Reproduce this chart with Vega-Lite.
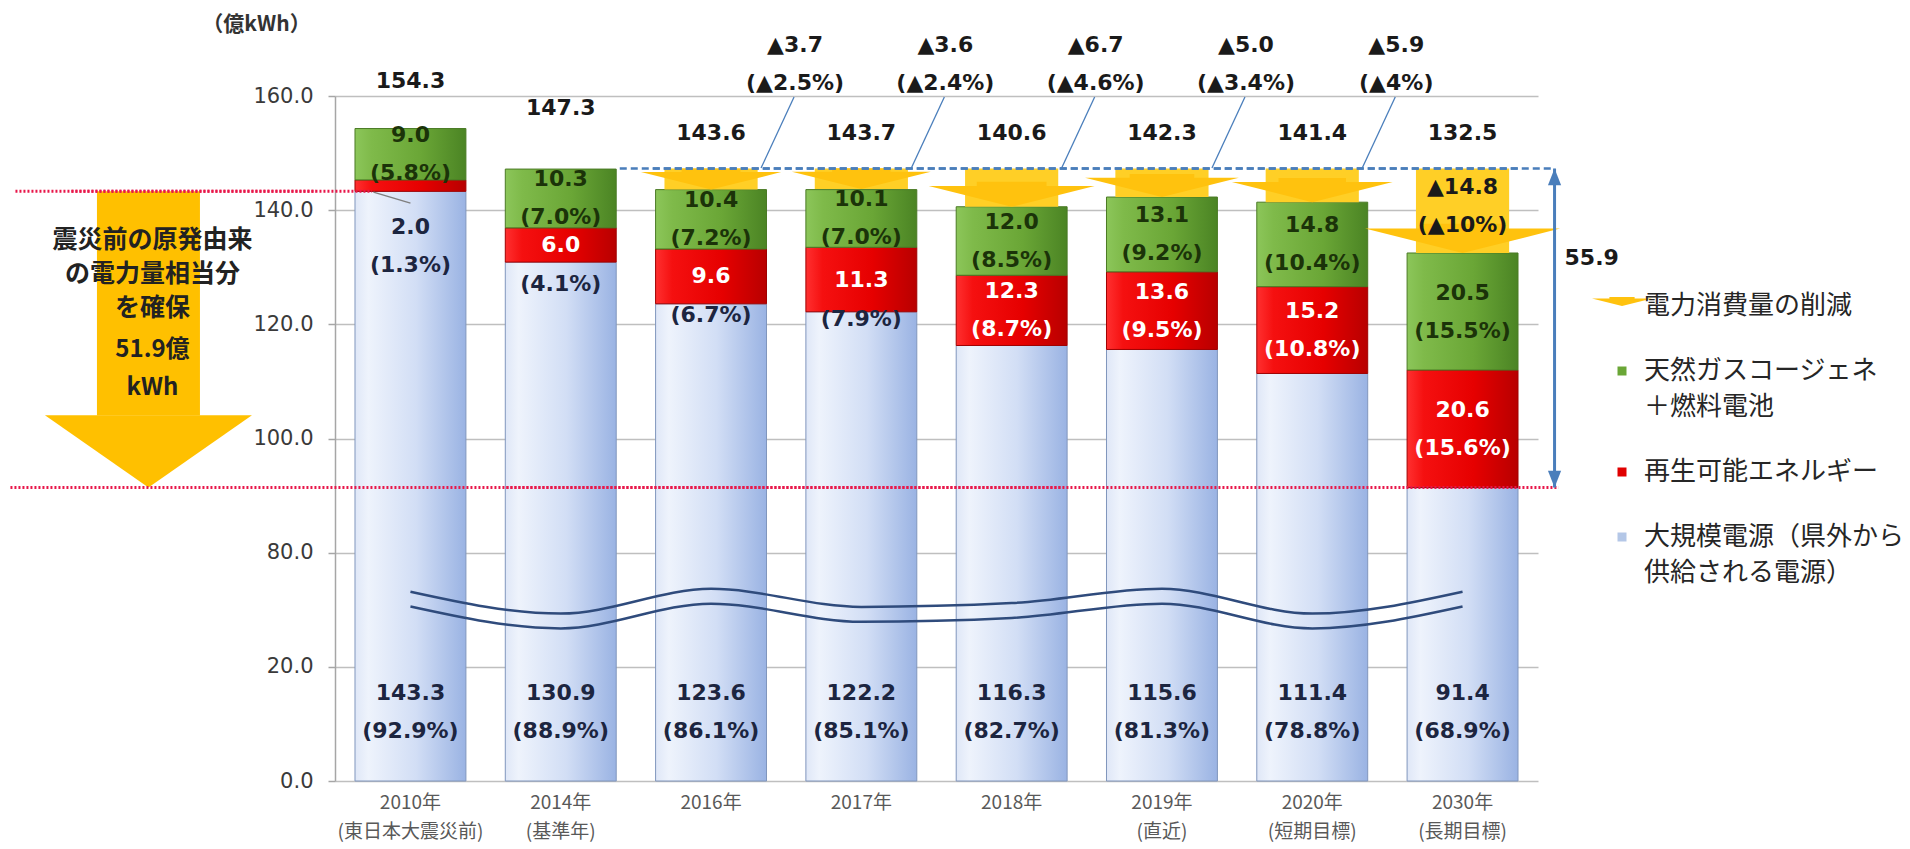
{
  "$schema": "https://vega.github.io/schema/vega-lite/v6.json",
  "width": 1203,
  "height": 685,
  "autosize": {"type": "none"},
  "padding": {"left": 335, "top": 96, "right": 372, "bottom": 68},
  "background": "white",
  "config": {"view": {"stroke": null}, "text": {"font": "DejaVu Sans"}},
  "datasets": {
    "seg": [
      {"year": "2010年", "series": "大規模電源（県外から供給される電源）", "order": 1, "value": 143.3, "pct": 92.9},
      {"year": "2010年", "series": "再生可能エネルギー", "order": 2, "value": 2.0, "pct": 1.3},
      {"year": "2010年", "series": "天然ガスコージェネ＋燃料電池", "order": 3, "value": 9.0, "pct": 5.8},
      {"year": "2014年", "series": "大規模電源（県外から供給される電源）", "order": 1, "value": 130.9, "pct": 88.9},
      {"year": "2014年", "series": "再生可能エネルギー", "order": 2, "value": 6.0, "pct": 4.1},
      {"year": "2014年", "series": "天然ガスコージェネ＋燃料電池", "order": 3, "value": 10.3, "pct": 7.0},
      {"year": "2016年", "series": "大規模電源（県外から供給される電源）", "order": 1, "value": 123.6, "pct": 86.1},
      {"year": "2016年", "series": "再生可能エネルギー", "order": 2, "value": 9.6, "pct": 6.7},
      {"year": "2016年", "series": "天然ガスコージェネ＋燃料電池", "order": 3, "value": 10.4, "pct": 7.2},
      {"year": "2017年", "series": "大規模電源（県外から供給される電源）", "order": 1, "value": 122.2, "pct": 85.1},
      {"year": "2017年", "series": "再生可能エネルギー", "order": 2, "value": 11.3, "pct": 7.9},
      {"year": "2017年", "series": "天然ガスコージェネ＋燃料電池", "order": 3, "value": 10.1, "pct": 7.0},
      {"year": "2018年", "series": "大規模電源（県外から供給される電源）", "order": 1, "value": 116.3, "pct": 82.7},
      {"year": "2018年", "series": "再生可能エネルギー", "order": 2, "value": 12.3, "pct": 8.7},
      {"year": "2018年", "series": "天然ガスコージェネ＋燃料電池", "order": 3, "value": 12.0, "pct": 8.5},
      {"year": "2019年", "series": "大規模電源（県外から供給される電源）", "order": 1, "value": 115.6, "pct": 81.3},
      {"year": "2019年", "series": "再生可能エネルギー", "order": 2, "value": 13.6, "pct": 9.5},
      {"year": "2019年", "series": "天然ガスコージェネ＋燃料電池", "order": 3, "value": 13.1, "pct": 9.2},
      {"year": "2020年", "series": "大規模電源（県外から供給される電源）", "order": 1, "value": 111.4, "pct": 78.8},
      {"year": "2020年", "series": "再生可能エネルギー", "order": 2, "value": 15.2, "pct": 10.8},
      {"year": "2020年", "series": "天然ガスコージェネ＋燃料電池", "order": 3, "value": 14.8, "pct": 10.4},
      {"year": "2030年", "series": "大規模電源（県外から供給される電源）", "order": 1, "value": 91.4, "pct": 68.9},
      {"year": "2030年", "series": "再生可能エネルギー", "order": 2, "value": 20.6, "pct": 15.6},
      {"year": "2030年", "series": "天然ガスコージェネ＋燃料電池", "order": 3, "value": 20.5, "pct": 15.5}
    ],
    "tot": [
      {"year": "2010年", "total": 154.3},
      {"year": "2014年", "total": 147.3},
      {"year": "2016年", "total": 143.6},
      {"year": "2017年", "total": 143.7},
      {"year": "2018年", "total": 140.6},
      {"year": "2019年", "total": 142.3},
      {"year": "2020年", "total": 141.4},
      {"year": "2030年", "total": 132.5}
    ],
    "cut": [
      {"year": "2016年", "series": "電力消費量の削減", "base": 147.3, "total": 143.6, "cut": 3.7, "cutPct": 2.5},
      {"year": "2017年", "series": "電力消費量の削減", "base": 147.3, "total": 143.7, "cut": 3.6, "cutPct": 2.4},
      {"year": "2018年", "series": "電力消費量の削減", "base": 147.3, "total": 140.6, "cut": 6.7, "cutPct": 4.6},
      {"year": "2019年", "series": "電力消費量の削減", "base": 147.3, "total": 142.3, "cut": 5.0, "cutPct": 3.4},
      {"year": "2020年", "series": "電力消費量の削減", "base": 147.3, "total": 141.4, "cut": 5.9, "cutPct": 4},
      {"year": "2030年", "series": "電力消費量の削減", "base": 147.3, "total": 132.5, "cut": 14.8, "cutPct": 10}
    ],
    "wave": [
      {"year": "2010年", "line": "a", "level": 59.5},
      {"year": "2014年", "line": "a", "level": 48.0},
      {"year": "2016年", "line": "a", "level": 61.0},
      {"year": "2017年", "line": "a", "level": 51.5},
      {"year": "2018年", "line": "a", "level": 53.5},
      {"year": "2019年", "line": "a", "level": 61.0},
      {"year": "2020年", "line": "a", "level": 48.0},
      {"year": "2030年", "line": "a", "level": 59.5},
      {"year": "2010年", "line": "b", "level": 51.7},
      {"year": "2014年", "line": "b", "level": 40.2},
      {"year": "2016年", "line": "b", "level": 53.2},
      {"year": "2017年", "line": "b", "level": 43.7},
      {"year": "2018年", "line": "b", "level": 45.7},
      {"year": "2019年", "line": "b", "level": 53.2},
      {"year": "2020年", "line": "b", "level": 40.2},
      {"year": "2030年", "line": "b", "level": 51.7}
    ],
    "dash": [{"year": "2014年", "level": 147.3}, {"year": "2030年", "level": 147.3}],
    "dotLow": [{"year": "2010年", "level": 91.4}, {"year": "2030年", "level": 91.4}],
    "dotHigh": [{"year": "2010年", "level": 143.3}, {"year": "2016年", "level": 143.3}],
    "ref": [{"year": "2010年", "pre": 143.3, "target": 91.4, "gap": 51.9}],
    "span": [{"year": "2030年", "base": 147.3, "target": 91.4, "gap": 55.9}]
  },
  "encoding": {
    "x": {
      "field": "year",
      "type": "nominal",
      "scale": {"domain": ["2010年", "2014年", "2016年", "2017年", "2018年", "2019年", "2020年", "2030年"], "paddingInner": 0.262, "paddingOuter": 0.133},
      "axis": {
        "title": null, "domain": false, "ticks": false, "labelAngle": 0,
        "labelFont": "Noto Sans CJK JP", "labelFontSize": 19, "labelColor": "#595959",
        "labelBaseline": "top", "labelLineHeight": 29, "labelPadding": 12, "labelLimit": 300,
        "labelExpr": "datum.value == '2010年' ? ['2010年', '(東日本大震災前)'] : datum.value == '2014年' ? ['2014年', '(基準年)'] : datum.value == '2019年' ? ['2019年', '(直近)'] : datum.value == '2020年' ? ['2020年', '(短期目標)'] : datum.value == '2030年' ? ['2030年', '(長期目標)'] : datum.value"
      }
    }
  },
  "layer": [
    {
      "data": {"name": "ref"},
      "mark": {"type": "bar", "color": "#FFC000", "width": 103, "xOffset": -262, "y2Offset": -72},
      "encoding": {
        "y": {
          "field": "pre", "type": "quantitative",
          "scale": {"domain": [0, 20, 80, 160], "range": [685, 570.8, 456.7, 0]},
          "axis": {
            "values": [0, 20, 80, 100, 120, 140, 160], "format": ".1f",
            "title": "（億kWh）", "titleAngle": 0, "titleX": -79, "titleY": -72, "titleAlign": "center", "titleBaseline": "middle",
            "titleFont": "Noto Sans CJK JP", "titleFontSize": 21, "titleFontWeight": "bold", "titleColor": "#333333",
            "grid": true, "gridColor": "#bfbfbf", "gridWidth": 1.5,
            "domainColor": "#a6a6a6", "domainWidth": 1.5, "tickColor": "#a6a6a6", "tickSize": 7, "tickWidth": 1.5,
            "labelFont": "DejaVu Sans", "labelFontSize": 21, "labelColor": "#3a3a3a", "labelPadding": 15
          }
        },
        "y2": {"field": "target"}
      }
    },
    {
      "data": {"name": "ref"},
      "mark": {"type": "point", "shape": "M-1,-0.7L1,-0.7L0,0Z", "filled": true, "opacity": 1, "color": "#FFC000", "size": 42849, "xOffset": -262, "strokeWidth": 0},
      "encoding": {"y": {"field": "target", "type": "quantitative"}}
    },
    {
      "data": {"name": "ref"},
      "mark": {"type": "text", "font": "Noto Sans CJK JP", "fontWeight": "bold", "fontSize": 25, "lineHeight": 34, "color": "#222222", "dx": -258, "align": "center", "baseline": "middle"},
      "encoding": {"y": {"datum": 134.8, "type": "quantitative"}, "text": {"value": ["震災前の原発由来", "の電力量相当分", "を確保"]}}
    },
    {
      "data": {"name": "ref"},
      "mark": {"type": "text", "font": "Noto Sans CJK JP", "fontWeight": "bold", "fontSize": 24, "lineHeight": 38, "color": "#222222", "dx": -258, "align": "center", "baseline": "middle"},
      "encoding": {"y": {"datum": 115.5, "type": "quantitative"}, "text": {"value": ["51.9億", "kWh"]}}
    },
    {
      "data": {"name": "seg"},
      "transform": [
        {"stack": "value", "groupby": ["year"], "sort": [{"field": "order", "order": "ascending"}], "as": ["y0", "y1"]},
        {"calculate": "(datum.y0 + datum.y1) / 2", "as": "mid"},
        {"calculate": "'(' + format(datum.pct, '.1f') + '%)'", "as": "pctText"}
      ],
      "layer": [
        {
          "transform": [{"filter": "datum.order == 1"}],
          "mark": {"type": "bar", "stroke": "#8096bd", "strokeWidth": 1,
            "color": {"gradient": "linear", "x1": 0, "y1": 0, "x2": 1, "y2": 0, "stops": [
              {"offset": 0, "color": "#dfe7f7"}, {"offset": 0.12, "color": "#eef3fc"}, {"offset": 0.55, "color": "#d2def5"}, {"offset": 1, "color": "#9ab3e3"}]}},
          "encoding": {"y": {"field": "y1", "type": "quantitative"}, "y2": {"field": "y0"}}
        },
        {
          "transform": [{"filter": "datum.order == 2"}],
          "mark": {"type": "bar", "stroke": "#a00000", "strokeWidth": 1,
            "color": {"gradient": "linear", "x1": 0, "y1": 0, "x2": 1, "y2": 0, "stops": [
              {"offset": 0, "color": "#ff3030"}, {"offset": 0.15, "color": "#f51010"}, {"offset": 0.6, "color": "#e60000"}, {"offset": 1, "color": "#b80000"}]}},
          "encoding": {"y": {"field": "y1", "type": "quantitative"}, "y2": {"field": "y0"}}
        },
        {
          "transform": [{"filter": "datum.order == 3"}],
          "mark": {"type": "bar", "stroke": "#4a7a25", "strokeWidth": 1,
            "color": {"gradient": "linear", "x1": 0, "y1": 0, "x2": 1, "y2": 0, "stops": [
              {"offset": 0, "color": "#8cc65a"}, {"offset": 0.15, "color": "#7fba4a"}, {"offset": 0.6, "color": "#6aa636"}, {"offset": 1, "color": "#4b8424"}]}},
          "encoding": {"y": {"field": "y1", "type": "quantitative"}, "y2": {"field": "y0"}}
        },
        {
          "transform": [{"filter": "datum.order == 1"}],
          "mark": {"type": "text", "fontWeight": "bold", "fontSize": 22, "color": "#1c2540", "dy": -19},
          "encoding": {"y": {"datum": 12, "type": "quantitative"}, "text": {"field": "value", "type": "quantitative", "format": ".1f"}}
        },
        {
          "transform": [{"filter": "datum.order == 1"}],
          "mark": {"type": "text", "fontWeight": "bold", "fontSize": 22, "color": "#1c2540", "dy": 19},
          "encoding": {"y": {"datum": 12, "type": "quantitative"}, "text": {"field": "pctText", "type": "nominal"}}
        },
        {
          "transform": [{"filter": "datum.order == 3"}],
          "mark": {"type": "text", "fontWeight": "bold", "fontSize": 22, "color": "#1b3309", "dy": -19},
          "encoding": {"y": {"field": "mid", "type": "quantitative"}, "text": {"field": "value", "type": "quantitative", "format": ".1f"}}
        },
        {
          "transform": [{"filter": "datum.order == 3"}],
          "mark": {"type": "text", "fontWeight": "bold", "fontSize": 22, "color": "#1b3309", "dy": 19},
          "encoding": {"y": {"field": "mid", "type": "quantitative"}, "text": {"field": "pctText", "type": "nominal"}}
        },
        {
          "transform": [{"filter": "datum.order == 2 && indexof(['2018年', '2019年', '2020年', '2030年'], datum.year) >= 0"}],
          "mark": {"type": "text", "fontWeight": "bold", "fontSize": 22, "color": "#ffffff", "dy": -19},
          "encoding": {"y": {"field": "mid", "type": "quantitative"}, "text": {"field": "value", "type": "quantitative", "format": ".1f"}}
        },
        {
          "transform": [{"filter": "datum.order == 2 && indexof(['2018年', '2019年', '2020年', '2030年'], datum.year) >= 0"}],
          "mark": {"type": "text", "fontWeight": "bold", "fontSize": 22, "color": "#ffffff", "dy": 19},
          "encoding": {"y": {"field": "mid", "type": "quantitative"}, "text": {"field": "pctText", "type": "nominal"}}
        },
        {
          "transform": [{"filter": "datum.order == 2 && indexof(['2014年', '2016年', '2017年'], datum.year) >= 0"}],
          "mark": {"type": "text", "fontWeight": "bold", "fontSize": 22, "color": "#ffffff"},
          "encoding": {"y": {"field": "mid", "type": "quantitative"}, "text": {"field": "value", "type": "quantitative", "format": ".1f"}}
        },
        {
          "transform": [{"filter": "datum.order == 2 && indexof(['2014年', '2016年', '2017年'], datum.year) >= 0"}],
          "mark": {"type": "text", "fontWeight": "bold", "fontSize": 22, "color": "#1c2540", "dy": 39},
          "encoding": {"y": {"field": "mid", "type": "quantitative"}, "text": {"field": "pctText", "type": "nominal"}}
        },
        {
          "transform": [{"filter": "datum.order == 2 && datum.year == '2010年'"}],
          "mark": {"type": "text", "fontWeight": "bold", "fontSize": 22, "color": "#1c2540", "dy": -19},
          "encoding": {"y": {"datum": 133.7, "type": "quantitative"}, "text": {"field": "value", "type": "quantitative", "format": ".1f"}}
        },
        {
          "transform": [{"filter": "datum.order == 2 && datum.year == '2010年'"}],
          "mark": {"type": "text", "fontWeight": "bold", "fontSize": 22, "color": "#1c2540", "dy": 19},
          "encoding": {"y": {"datum": 133.7, "type": "quantitative"}, "text": {"field": "pctText", "type": "nominal"}}
        }
      ]
    },
    {
      "data": {"name": "dotHigh"},
      "mark": {"type": "line", "color": "#e8174a", "strokeWidth": 3, "strokeDash": [2, 2], "xOffset": -395},
      "encoding": {"y": {"field": "level", "type": "quantitative"}}
    },
    {
      "data": {"name": "dotHigh"},
      "mark": {"type": "line", "color": "#e8174a", "strokeWidth": 3, "strokeDash": [2, 2], "xOffset": -339},
      "encoding": {"y": {"field": "level", "type": "quantitative"}}
    },
    {
      "data": {"name": "dotLow"},
      "mark": {"type": "line", "color": "#e8174a", "strokeWidth": 3, "strokeDash": [2, 2], "xOffset": -400},
      "encoding": {"y": {"field": "level", "type": "quantitative"}}
    },
    {
      "data": {"name": "dotLow"},
      "mark": {"type": "line", "color": "#e8174a", "strokeWidth": 3, "strokeDash": [2, 2], "xOffset": 96},
      "encoding": {"y": {"field": "level", "type": "quantitative"}}
    },
    {
      "data": {"name": "ref"},
      "mark": {"type": "point", "shape": "M-1,-0.297L1,0.297", "filled": false, "opacity": 1, "color": "#7f7f7f", "strokeWidth": 1.5, "size": 1369, "xOffset": -18.5},
      "encoding": {"y": {"datum": 142.2, "type": "quantitative"}}
    },
    {
      "data": {"name": "wave"},
      "mark": {"type": "line", "interpolate": "monotone", "color": "#2f4b7c", "strokeWidth": 2.5},
      "encoding": {"y": {"field": "level", "type": "quantitative"}, "detail": {"field": "line", "type": "nominal"}}
    },
    {
      "data": {"name": "cut"},
      "mark": {"type": "bar", "color": "#FFCF26", "width": {"band": 0.84}},
      "encoding": {"y": {"field": "base", "type": "quantitative"}, "y2": {"field": "total"}}
    },
    {
      "data": {"name": "cut"},
      "mark": {"type": "point", "filled": true, "opacity": 1, "strokeWidth": 0},
      "encoding": {
        "y": {"field": "total", "type": "quantitative"},
        "color": {
          "field": "series", "type": "nominal",
          "scale": {"domain": ["電力消費量の削減", "天然ガスコージェネ＋燃料電池", "再生可能エネルギー", "大規模電源（県外から供給される電源）"],
                    "range": ["#FFC20E", "#6aa636", "#e00000", "#b4c7e7"]},
          "legend": {
            "title": null, "orient": "none", "legendX": 1257, "legendY": 180,
            "symbolSize": 3600, "symbolStrokeWidth": 0, "symbolOpacity": 1,
            "labelFont": "Noto Sans CJK JP", "labelFontSize": 26, "labelColor": "#262626", "labelLimit": 400,
            "rowPadding": 22, "labelOffset": -8, "padding": 0,
            "encode": {"labels": {"update": {"lineHeight": {"value": 36}}}},
            "labelExpr": "datum.label == '天然ガスコージェネ＋燃料電池' ? ['天然ガスコージェネ', ' ＋燃料電池'] : datum.label == '大規模電源（県外から供給される電源）' ? ['大規模電源（県外から', '供給される電源）'] : datum.label"
          }
        },
        "shape": {
          "field": "series", "type": "nominal",
          "scale": {"domain": ["電力消費量の削減", "天然ガスコージェネ＋燃料電池", "再生可能エネルギー", "大規模電源（県外から供給される電源）"],
                    "range": ["M-0.42,-0.3L0.42,-0.3L0.42,-0.25L1,-0.25L0,0L-1,-0.25L-0.42,-0.25Z", "M-0.15,-0.15L0.15,-0.15L0.15,0.15L-0.15,0.15Z", "M-0.15,-0.15L0.15,-0.15L0.15,0.15L-0.15,0.15Z", "M-0.15,-0.15L0.15,-0.15L0.15,0.15L-0.15,0.15Z"]}
        },
        "size": {"field": "cut", "type": "quantitative", "scale": {"type": "log", "domain": [3.6, 14.8], "range": [19300, 38025]}, "legend": null}
      }
    },
    {
      "data": {"name": "dash"},
      "mark": {"type": "line", "color": "#4a7ebb", "strokeWidth": 2.5, "strokeDash": [7, 4], "xOffset": 59},
      "encoding": {"y": {"field": "level", "type": "quantitative"}}
    },
    {
      "data": {"name": "dash"},
      "mark": {"type": "line", "color": "#4a7ebb", "strokeWidth": 2.5, "strokeDash": [7, 4], "xOffset": 92},
      "encoding": {"y": {"field": "level", "type": "quantitative"}}
    },
    {
      "data": {"name": "span"},
      "mark": {"type": "bar", "color": "#4a7ebb", "width": 3, "xOffset": 92},
      "encoding": {"y": {"field": "base", "type": "quantitative"}, "y2": {"field": "target"}}
    },
    {
      "data": {"name": "span"},
      "mark": {"type": "point", "shape": "M0,0L0.55,1.4L-0.55,1.4Z", "filled": true, "opacity": 1, "color": "#4a7ebb", "size": 576, "xOffset": 92, "strokeWidth": 0},
      "encoding": {"y": {"field": "base", "type": "quantitative"}}
    },
    {
      "data": {"name": "span"},
      "mark": {"type": "point", "shape": "M0,0L0.55,-1.4L-0.55,-1.4Z", "filled": true, "opacity": 1, "color": "#4a7ebb", "size": 576, "xOffset": 92, "strokeWidth": 0},
      "encoding": {"y": {"field": "target", "type": "quantitative"}}
    },
    {
      "data": {"name": "span"},
      "mark": {"type": "text", "fontWeight": "bold", "fontSize": 22, "color": "#1a1a1a", "dx": 102, "align": "left"},
      "encoding": {"y": {"datum": 131.6, "type": "quantitative"}, "text": {"field": "gap", "type": "quantitative", "format": ".1f"}}
    },
    {
      "data": {"name": "cut"},
      "transform": [{"filter": "datum.year != '2030年'"}],
      "mark": {"type": "point", "shape": "M0.465,-1L-0.465,1", "filled": false, "opacity": 1, "color": "#4a7ebb", "strokeWidth": 1.3, "size": 5041, "xOffset": 66.5},
      "encoding": {"y": {"datum": 153.6, "type": "quantitative"}}
    },
    {
      "data": {"name": "cut"},
      "transform": [
        {"filter": "datum.year != '2030年'"},
        {"calculate": "'▲' + format(datum.cut, '.1f')", "as": "l1"},
        {"calculate": "'(▲' + datum.cutPct + '%)'", "as": "l2"}
      ],
      "layer": [
        {"mark": {"type": "text", "fontWeight": "bold", "fontSize": 22, "color": "#1a1a1a", "dx": 84, "dy": -19},
         "encoding": {"y": {"datum": 165.6, "type": "quantitative"}, "text": {"field": "l1", "type": "nominal"}}},
        {"mark": {"type": "text", "fontWeight": "bold", "fontSize": 22, "color": "#1a1a1a", "dx": 84, "dy": 19},
         "encoding": {"y": {"datum": 165.6, "type": "quantitative"}, "text": {"field": "l2", "type": "nominal"}}}
      ]
    },
    {
      "data": {"name": "cut"},
      "transform": [
        {"filter": "datum.year == '2030年'"},
        {"calculate": "'▲' + format(datum.cut, '.1f')", "as": "l1"},
        {"calculate": "'(▲' + datum.cutPct + '%)'", "as": "l2"}
      ],
      "layer": [
        {"mark": {"type": "text", "fontWeight": "bold", "fontSize": 22, "color": "#1a1a1a", "dy": -19},
         "encoding": {"y": {"datum": 140.7, "type": "quantitative"}, "text": {"field": "l1", "type": "nominal"}}},
        {"mark": {"type": "text", "fontWeight": "bold", "fontSize": 22, "color": "#1a1a1a", "dy": 19},
         "encoding": {"y": {"datum": 140.7, "type": "quantitative"}, "text": {"field": "l2", "type": "nominal"}}}
      ]
    },
    {
      "data": {"name": "tot"},
      "transform": [{"filter": "datum.year == '2010年'"}],
      "mark": {"type": "text", "fontWeight": "bold", "fontSize": 22, "color": "#1a1a1a", "dy": -48},
      "encoding": {"y": {"field": "total", "type": "quantitative"}, "text": {"field": "total", "type": "quantitative", "format": ".1f"}}
    },
    {
      "data": {"name": "tot"},
      "transform": [{"filter": "datum.year == '2014年'"}],
      "mark": {"type": "text", "fontWeight": "bold", "fontSize": 22, "color": "#1a1a1a", "dy": -61},
      "encoding": {"y": {"field": "total", "type": "quantitative"}, "text": {"field": "total", "type": "quantitative", "format": ".1f"}}
    },
    {
      "data": {"name": "tot"},
      "transform": [{"filter": "datum.year != '2010年' && datum.year != '2014年'"}],
      "mark": {"type": "text", "fontWeight": "bold", "fontSize": 22, "color": "#1a1a1a"},
      "encoding": {"y": {"datum": 153.5, "type": "quantitative"}, "text": {"field": "total", "type": "quantitative", "format": ".1f"}}
    }
  ]
}
